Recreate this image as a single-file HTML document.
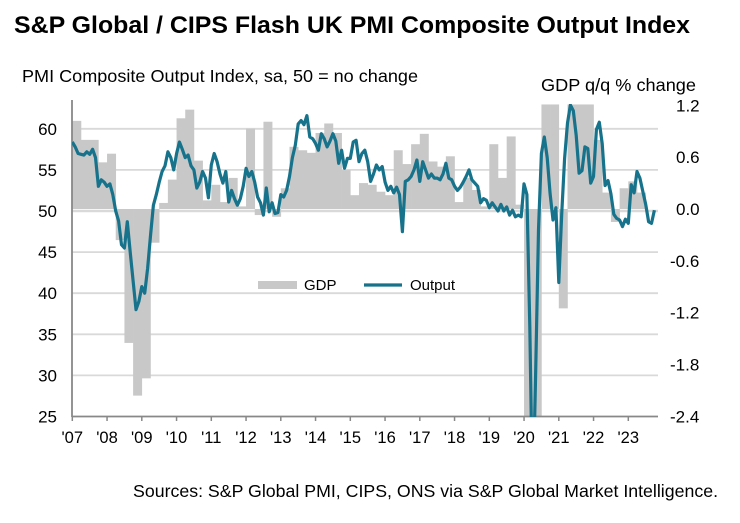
<!DOCTYPE html>
<html><head><meta charset="utf-8"><style>
body{margin:0;background:#fff;}
svg text{font-family:"Liberation Sans",Arial,sans-serif;fill:#000;}
</style></head><body>
<svg width="740" height="518" viewBox="0 0 740 518">
<text x="14" y="33" font-size="24.5" font-weight="bold" textLength="676" lengthAdjust="spacingAndGlyphs">S&amp;P Global / CIPS Flash UK PMI Composite Output Index</text>
<text x="22" y="82" font-size="17.5" textLength="396" lengthAdjust="spacingAndGlyphs">PMI Composite  Output  Index, sa, 50 = no change</text>
<text x="541" y="91" font-size="17.5" textLength="155" lengthAdjust="spacingAndGlyphs">GDP q/q % change</text>
<g id="grid"></g><g id="bars"></g><g id="axes"></g><g id="line"></g><g id="labels"></g>
<g>
<rect x="258" y="281" width="39" height="8" fill="#c8c8c8"/>
<text x="304" y="290" font-size="15">GDP</text>
<line x1="364" y1="285" x2="402" y2="285" stroke="#17738b" stroke-width="3.2"/>
<text x="410" y="290" font-size="15">Output</text>
</g>
<text x="133" y="497" font-size="17.5" textLength="585" lengthAdjust="spacingAndGlyphs">Sources: S&amp;P Global PMI, CIPS, ONS via S&amp;P Global Market Intelligence.</text>
<defs><clipPath id="pc"><rect x="72" y="104" width="600" height="313"/></clipPath></defs>
</svg>
<script>
const leftTicks=[25,30,35,40,45,50,55,60];
const rightTicks=["-2.4","-1.8","-1.2","-0.6","0.0","0.6","1.2"];
const yearLabels=["'07","'08","'09","'10","'11","'12","'13","'14","'15","'16","'17","'18","'19","'20","'21","'22","'23"];
const pmi=[58.4,57.8,57.0,56.9,56.8,57.2,56.9,57.5,56.5,53.0,53.8,53.5,
53.0,53.3,52.0,50.0,48.8,45.9,45.5,48.7,45.0,41.5,38.0,39.0,
40.8,40.0,43.0,47.0,50.7,52.0,53.5,54.8,55.5,57.2,56.5,55.0,
57.0,58.4,57.5,56.5,56.8,55.5,55.0,52.8,53.5,54.8,54.0,51.6,
55.6,57.0,56.0,54.5,53.4,54.8,51.1,52.5,51.5,50.7,51.5,53.0,
55.2,54.2,54.8,53.5,51.7,51.0,49.5,52.8,49.9,51.0,49.7,49.8,
52.0,51.7,52.5,54.2,56.5,58.0,60.6,61.0,60.5,61.6,59.0,58.8,
58.2,57.4,59.4,58.8,57.8,58.5,59.4,58.5,55.8,57.4,55.2,56.4,
56.4,58.4,58.6,56.0,57.0,57.4,56.0,53.6,54.5,55.6,55.0,55.4,
53.5,52.5,53.0,52.2,52.9,52.0,47.5,53.6,53.8,54.2,55.0,56.2,
53.6,56.0,55.0,54.0,54.5,54.0,54.0,53.8,54.5,55.8,54.0,53.8,
53.0,52.5,52.9,53.5,54.2,55.0,53.8,53.4,53.0,51.0,51.5,51.3,
50.4,51.0,50.5,50.0,50.8,50.0,50.5,49.5,50.1,49.3,49.5,49.3,
53.3,52.0,36.0,13.8,30.0,47.7,57.0,59.0,56.5,52.1,48.9,50.4,
41.3,49.6,56.4,60.7,62.9,62.2,59.2,54.6,54.9,57.8,57.6,53.4,
54.2,59.9,60.8,58.2,53.1,53.7,52.1,49.6,49.1,48.9,48.1,49.0,
48.5,53.2,52.2,54.8,54.0,52.4,50.8,48.7,48.5,50.1];
const gdp=[1.02,0.8,0.8,0.54,0.64,-0.36,-1.55,-2.16,-1.96,-0.39,0.07,0.34,
1.05,1.15,0.56,0.1,0.28,0.08,0.36,0.03,0.93,-0.07,1.01,-0.09,
0.24,0.72,0.68,0.65,0.88,0.99,0.88,0.45,0.16,0.3,0.28,0.2,
0.16,0.68,0.52,0.75,0.87,0.55,0.49,0.61,0.08,0.36,0.22,0.03,
0.75,0.36,0.84,0.05,-2.5,-20,16,1.3,-1.15,5.5,1.6,1.5,
0.8,0.19,-0.15,0.24,0.32,0.19,0.0];
const NS="http://www.w3.org/2000/svg";
const X0=72.3,YW=34.75;
function xm(i){return X0+i/12*YW;}
function xq(q){return X0+q/4*YW;}
function yL(v){return 211-(v-50)*8.22;}
function yR(v){return 209-v*86.4;}
function mk(t,a,p){const e=document.createElementNS(NS,t);for(const k in a)e.setAttribute(k,a[k]);document.getElementById(p).appendChild(e);return e;}
leftTicks.forEach(v=>{
 if(v>25){const g=mk('line',{x1:72,x2:658,y1:yL(v),y2:yL(v),stroke:'#d9d9d9','stroke-width':v==50?2.5:1.8},'grid');
 
 }
 const t=mk('text',{x:57,y:yL(v)+6,'font-size':17,'text-anchor':'end'},'labels');t.textContent=v;
 
 
});
rightTicks.forEach(s=>{
 const t=mk('text',{x:s[0]=='-'?670:676,y:yR(parseFloat(s))+6,'font-size':17},'labels');t.textContent=s;
 
 
});
gdp.forEach((v,i)=>{
 const vv=Math.max(-2.45,Math.min(1.21,v));
 const y1=yR(Math.max(vv,0)),y2=yR(Math.min(vv,0));
 const r=mk('rect',{x:xq(i),y:y1,width:YW/4+0.3,height:y2-y1,fill:'#c8c8c8','clip-path':'url(#pc)'},'bars');
 
 
});
const ax=mk('line',{x1:72,x2:72,y1:100,y2:417,stroke:'#888','stroke-width':1.8},'axes');


const bx=mk('line',{x1:72,x2:658,y1:416.5,y2:416.5,stroke:'#888','stroke-width':1.8},'axes');


yearLabels.forEach((s,i)=>{
 const tk=mk('line',{x1:X0+i*YW,x2:X0+i*YW,y1:416,y2:421,stroke:'#888','stroke-width':1.5},'axes');
 
 
 const t=mk('text',{x:X0+i*YW,y:443,'font-size':16.5,'text-anchor':'middle'},'labels');t.textContent=s;
 
 
});
const pts=pmi.map((v,i)=>xm(i).toFixed(1)+','+yL(v).toFixed(1)).join(' ');
const pl=mk('polyline',{points:pts,fill:'none',stroke:'#17738b','stroke-width':3.2,'stroke-linejoin':'round','clip-path':'url(#pc)'},'line');


</script>
</body></html>
